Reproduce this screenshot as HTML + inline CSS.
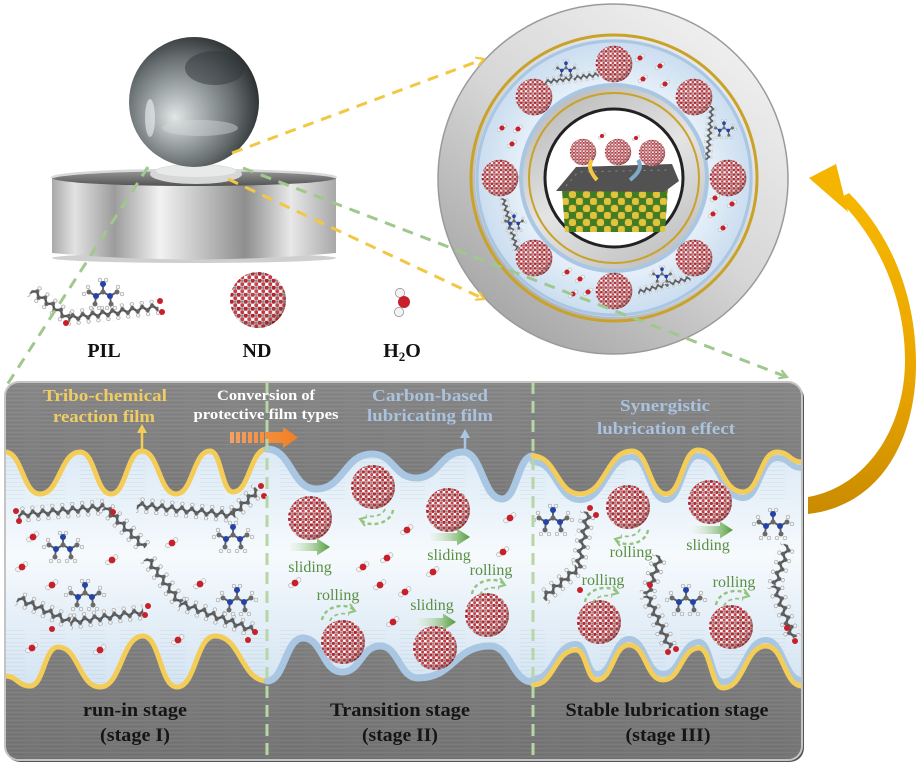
<!DOCTYPE html>
<html><head><meta charset="utf-8">
<style>html,body{margin:0;padding:0;background:#fff}svg{display:block}</style></head>
<body>
<svg xmlns="http://www.w3.org/2000/svg" xmlns:xlink="http://www.w3.org/1999/xlink" width="916" height="764" viewBox="0 0 916 764" font-family="'Liberation Serif', serif">
<defs>
 <pattern id="ndPat" patternUnits="userSpaceOnUse" width="5" height="5">
  <rect width="5" height="5" fill="#d8cdcd"/>
  <circle cx="1.2" cy="1.2" r="1.5" fill="#b01e2a"/>
  <circle cx="3.8" cy="3.7" r="1.35" fill="#c8303a"/>
  <circle cx="3.8" cy="1.2" r="0.9" fill="#7e8484"/>
  <circle cx="1.2" cy="3.8" r="1.05" fill="#ffffff"/>
 </pattern>
 <radialGradient id="ndSh" cx="0.38" cy="0.35" r="0.7">
  <stop offset="0" stop-color="#fff" stop-opacity="0.15"/>
  <stop offset="0.6" stop-color="#fff" stop-opacity="0"/>
  <stop offset="1" stop-color="#500" stop-opacity="0.5"/>
 </radialGradient>
 <g id="nd"><circle r="20" fill="url(#ndPat)"/><circle r="20" fill="url(#ndSh)"/></g>

 <pattern id="chP" patternUnits="userSpaceOnUse" x="0" y="-8" width="10" height="16">
  <path d="M0,10 L5,6 L10,10" fill="none" stroke="#4e4e4e" stroke-width="2.4"/>
  <circle cx="0" cy="10" r="2.2" fill="#606060"/>
  <circle cx="5" cy="6" r="2.2" fill="#606060"/>
  <circle cx="10" cy="10" r="2.2" fill="#606060"/>
  <circle cx="5" cy="2" r="1.8" fill="#f6f6f6" stroke="#7a7a7a" stroke-width="0.5"/>
  <circle cx="0" cy="14" r="1.8" fill="#f6f6f6" stroke="#7a7a7a" stroke-width="0.5"/>
  <circle cx="10" cy="14" r="1.8" fill="#f6f6f6" stroke="#7a7a7a" stroke-width="0.5"/>
 </pattern>

 <g id="amm">
  <path d="M0,0 L-7,4 L-14,0 M-7,4 L-8,12 M0,0 L7,4 L14,0 M7,4 L8,12 M0,0 L0,-8" stroke="#5e5e5e" stroke-width="1.9" fill="none"/>
  <circle cx="-19" cy="2" r="1.9" fill="#f4f4f4" stroke="#888" stroke-width=".5"/>
  <circle cx="-15" cy="-5" r="1.9" fill="#f4f4f4" stroke="#888" stroke-width=".5"/>
  <circle cx="-12" cy="16" r="1.9" fill="#f4f4f4" stroke="#888" stroke-width=".5"/>
  <circle cx="-4" cy="16" r="1.9" fill="#f4f4f4" stroke="#888" stroke-width=".5"/>
  <circle cx="19" cy="2" r="1.9" fill="#f4f4f4" stroke="#888" stroke-width=".5"/>
  <circle cx="15" cy="-5" r="1.9" fill="#f4f4f4" stroke="#888" stroke-width=".5"/>
  <circle cx="12" cy="16" r="1.9" fill="#f4f4f4" stroke="#888" stroke-width=".5"/>
  <circle cx="4" cy="16" r="1.9" fill="#f4f4f4" stroke="#888" stroke-width=".5"/>
  <circle cx="-3" cy="-12" r="1.9" fill="#f4f4f4" stroke="#888" stroke-width=".5"/>
  <circle cx="3" cy="-12" r="1.9" fill="#f4f4f4" stroke="#888" stroke-width=".5"/>
  <circle cx="0" cy="0" r="2.5" fill="#6a6a6a"/>
  <circle cx="-14" cy="0" r="2.5" fill="#6a6a6a"/>
  <circle cx="-8" cy="12" r="2.5" fill="#6a6a6a"/>
  <circle cx="14" cy="0" r="2.5" fill="#6a6a6a"/>
  <circle cx="8" cy="12" r="2.5" fill="#6a6a6a"/>
  <circle cx="-7" cy="4" r="3" fill="#2442a8"/>
  <circle cx="7" cy="4" r="3" fill="#2442a8"/>
  <circle cx="0" cy="-8" r="3" fill="#2442a8"/>
 </g>
 <g id="w">
  <circle cx="-4" cy="2.5" r="2.4" fill="#f3f3f3" stroke="#999" stroke-width=".5"/>
  <circle cx="3.6" cy="-3" r="2.4" fill="#f3f3f3" stroke="#999" stroke-width=".5"/>
  <circle cx="0" cy="0" r="3.4" fill="#c8202a"/>
 </g>
 <linearGradient id="slG" gradientUnits="userSpaceOnUse" x1="0" y1="0" x2="40" y2="0">
  <stop offset="0" stop-color="#e8f2e0" stop-opacity="0.3"/>
  <stop offset="1" stop-color="#4f9a35"/>
 </linearGradient>
 <g id="sl"><path d="M0,-4 L27,-4 L27,-8.5 L40,0 L27,8.5 L27,4 L0,4 Z" fill="url(#slG)"/></g>
 <g id="rl" fill="none" stroke="#93c47e" stroke-width="2.4" stroke-dasharray="4 3">
  <path d="M-18,8 C-16,-6 6,-10 14,-2"/>
  <path d="M-10,9 C-8,2 4,0 9,3" stroke-width="1.8"/>
  <path d="M10,-8 L15,-1 L8,1" stroke-dasharray="none" stroke-width="2"/>
 </g>

 <linearGradient id="grayTop" x1="0" y1="382" x2="0" y2="500" gradientUnits="userSpaceOnUse">
  <stop offset="0" stop-color="#878787"/><stop offset="1" stop-color="#7a7a7a"/>
 </linearGradient>
 <linearGradient id="grayBot" x1="0" y1="630" x2="0" y2="760" gradientUnits="userSpaceOnUse">
  <stop offset="0" stop-color="#818181"/><stop offset="1" stop-color="#747474"/>
 </linearGradient>
 <pattern id="brush" patternUnits="userSpaceOnUse" width="40" height="4">
  <rect width="40" height="1" fill="#fff" opacity="0.05"/>
  <rect y="2" width="25" height="1" fill="#000" opacity="0.04"/>
 </pattern>
 <linearGradient id="liq" x1="0" y1="445" x2="0" y2="690" gradientUnits="userSpaceOnUse">
  <stop offset="0" stop-color="#d9e8f5"/>
  <stop offset="0.45" stop-color="#f6fafd"/>
  <stop offset="1" stop-color="#d2e3f2"/>
 </linearGradient>
 <clipPath id="pc"><rect x="5" y="382" width="797" height="378" rx="14"/></clipPath>

 <radialGradient id="ball" cx="0.42" cy="0.55" r="0.62" fx="0.35" fy="0.62">
  <stop offset="0" stop-color="#e2e6e6"/>
  <stop offset="0.3" stop-color="#a9b0b1"/>
  <stop offset="0.68" stop-color="#666d6e"/>
  <stop offset="1" stop-color="#25292a"/>
 </radialGradient>
 <linearGradient id="disk" x1="52" y1="0" x2="336" y2="0" gradientUnits="userSpaceOnUse">
  <stop offset="0" stop-color="#a9a9a9"/>
  <stop offset="0.08" stop-color="#e2e2e2"/>
  <stop offset="0.22" stop-color="#9c9c9c"/>
  <stop offset="0.38" stop-color="#f2f2f2"/>
  <stop offset="0.52" stop-color="#c4c4c4"/>
  <stop offset="0.68" stop-color="#8e8e8e"/>
  <stop offset="0.84" stop-color="#e8e8e8"/>
  <stop offset="1" stop-color="#a8a8a8"/>
 </linearGradient>
 <linearGradient id="diskTop" x1="0" y1="170" x2="0" y2="188" gradientUnits="userSpaceOnUse">
  <stop offset="0" stop-color="#9a9a9a"/><stop offset="1" stop-color="#4a4a4a"/>
 </linearGradient>

 <linearGradient id="ringG" x1="0.8" y1="0.1" x2="0.2" y2="0.9">
  <stop offset="0" stop-color="#eeeeee"/><stop offset="0.5" stop-color="#d6d6d6"/><stop offset="1" stop-color="#a9a9a9"/>
 </linearGradient>
 <radialGradient id="bandG" cx="0.5" cy="0.5" r="0.5">
  <stop offset="0.65" stop-color="#e8f1f9"/><stop offset="1" stop-color="#c9dcef"/>
 </radialGradient>
 <linearGradient id="innerG" x1="0.2" y1="0" x2="0.8" y2="1">
  <stop offset="0" stop-color="#b8b8b8"/><stop offset="0.5" stop-color="#e4e4e4"/><stop offset="1" stop-color="#bdbdbd"/>
 </linearGradient>
 <pattern id="lat" patternUnits="userSpaceOnUse" width="14" height="14" x="562" y="184">
  <rect width="14" height="14" fill="#6f7a2a"/>
  <circle cx="3.5" cy="3.5" r="3.8" fill="#e2c33c"/>
  <circle cx="10.5" cy="3.5" r="3.8" fill="#3f7d24"/>
  <circle cx="3.5" cy="10.5" r="3.8" fill="#3f7d24"/>
  <circle cx="10.5" cy="10.5" r="3.8" fill="#e2c33c"/>
 </pattern>
 <linearGradient id="arrG" x1="0" y1="170" x2="0" y2="515" gradientUnits="userSpaceOnUse">
  <stop offset="0" stop-color="#f7b900"/><stop offset="0.6" stop-color="#eaa600"/><stop offset="1" stop-color="#c98b00"/>
 </linearGradient>
 <linearGradient id="orG" x1="230" y1="0" x2="298" y2="0" gradientUnits="userSpaceOnUse">
  <stop offset="0" stop-color="#f6a060"/><stop offset="1" stop-color="#f07f22"/>
 </linearGradient>

 <marker id="ay" viewBox="0 0 10 10" refX="8" refY="5" markerWidth="11" markerHeight="11" markerUnits="userSpaceOnUse" orient="auto">
  <path d="M1,1 L8,5 L1,9" fill="none" stroke="#f2c744" stroke-width="2"/>
 </marker>
 <marker id="ag" viewBox="0 0 10 10" refX="8" refY="5" markerWidth="11" markerHeight="11" markerUnits="userSpaceOnUse" orient="auto">
  <path d="M1,1 L8,5 L1,9" fill="none" stroke="#9fc98c" stroke-width="2"/>
 </marker>
</defs>

<rect width="916" height="764" fill="#fff"/>

<!-- ===== Ball on disk ===== -->
<ellipse cx="194" cy="258" rx="142" ry="5" fill="#cfcfcf"/>
<path d="M52,178 L52,253 Q194,266 336,253 L336,178 Z" fill="url(#disk)"/>
<ellipse cx="194" cy="178" rx="142" ry="8" fill="url(#diskTop)"/>
<path d="M52,178 A142,8 0 0 1 336,178" fill="none" stroke="#d8d8d8" stroke-width="2.5"/>
<ellipse cx="196" cy="174" rx="46" ry="10" fill="#d6d8d8"/>
<ellipse cx="196" cy="171" rx="40" ry="6" fill="#e8e9e9"/>
<circle cx="194" cy="102" r="65" fill="url(#ball)"/>
<ellipse cx="215" cy="68" rx="30" ry="17" fill="#30363a" opacity="0.5"/>
<ellipse cx="150" cy="118" rx="5" ry="19" fill="#fff" opacity="0.5"/>
<ellipse cx="200" cy="128" rx="38" ry="8" fill="#d5dada" opacity="0.45"/>

<!-- ===== Legend molecules ===== -->
<rect x="0" y="-8" width="46" height="16" fill="url(#chP)" transform="translate(32 290) rotate(37.9)"/>
<rect x="0" y="-8" width="91" height="16" fill="url(#chP)" transform="translate(68 318) rotate(-7)"/>
<circle cx="160" cy="301" r="3" fill="#c8202a"/><circle cx="162" cy="312" r="3" fill="#c8202a"/><circle cx="66" cy="323" r="3" fill="#c8202a"/>
<use href="#amm" transform="translate(103 292)"/>
<use href="#nd" transform="translate(258 300) scale(1.4)"/>
<circle cx="400" cy="293" r="4.6" fill="#f3f3f3" stroke="#888" stroke-width=".7"/>
<circle cx="399" cy="312" r="4.6" fill="#f3f3f3" stroke="#888" stroke-width=".7"/>
<circle cx="404" cy="302" r="6" fill="#c8202a"/>
<g font-weight="bold" font-size="20" fill="#111" text-anchor="middle">
 <text x="104" y="357">PIL</text>
 <text x="257" y="357">ND</text>
 <text x="402" y="357">H<tspan font-size="13" dy="4">2</tspan><tspan dy="-4">O</tspan></text>
</g>

<!-- ===== Ring ===== -->
<circle cx="613" cy="179" r="175" fill="url(#ringG)" stroke="#9a9a9a" stroke-width="1.5"/>
<circle cx="614" cy="178" r="143" fill="none" stroke="#c9a22a" stroke-width="3"/>
<circle cx="614" cy="178" r="139" fill="url(#bandG)"/>
<circle cx="614" cy="178" r="137" fill="none" stroke="#a9c6e2" stroke-width="3"/>
<circle cx="614" cy="178" r="93" fill="url(#innerG)" stroke="#a9c6e2" stroke-width="4"/>
<circle cx="614" cy="178" r="85" fill="none" stroke="#c9a22a" stroke-width="2"/>
<circle cx="614" cy="178" r="69" fill="#fff" stroke="#222" stroke-width="3"/>
<!-- ring contents -->
<use href="#nd" transform="translate(614 64) scale(0.92)"/>
<use href="#nd" transform="translate(694 97) scale(0.92)"/>
<use href="#nd" transform="translate(728 178) scale(0.92)"/>
<use href="#nd" transform="translate(694 258) scale(0.92)"/>
<use href="#nd" transform="translate(614 291) scale(0.92)"/>
<use href="#nd" transform="translate(534 258) scale(0.92)"/>
<use href="#nd" transform="translate(500 178) scale(0.92)"/>
<use href="#nd" transform="translate(534 97) scale(0.92)"/>
<rect x="0" y="-8" width="90" height="16" fill="url(#chP)" transform="translate(545 82) rotate(-8) scale(0.6)"/>
<use href="#amm" transform="translate(566 68) scale(0.6)"/>
<rect x="0" y="-8" width="90" height="16" fill="url(#chP)" transform="translate(712 106) rotate(95) scale(0.6)"/>
<use href="#amm" transform="translate(724 128) scale(0.6)"/>
<rect x="0" y="-8" width="90" height="16" fill="url(#chP)" transform="translate(503 198) rotate(75) scale(0.6)"/>
<use href="#amm" transform="translate(514 221) scale(0.6)"/>
<rect x="0" y="-8" width="90" height="16" fill="url(#chP)" transform="translate(638 292) rotate(-15) scale(0.6)"/>
<use href="#amm" transform="translate(662 274) scale(0.6)"/>
<use href="#w" transform="translate(640 58) scale(.75)"/><use href="#w" transform="translate(660 66) scale(.75)"/>
<use href="#w" transform="translate(643 79) scale(.75)"/><use href="#w" transform="translate(665 84) scale(.75)"/>
<use href="#w" transform="translate(502 128) scale(.75)"/><use href="#w" transform="translate(518 129) scale(.75)"/>
<use href="#w" transform="translate(512 144) scale(.75)"/>
<use href="#w" transform="translate(715 198) scale(.75)"/><use href="#w" transform="translate(732 204) scale(.75)"/>
<use href="#w" transform="translate(713 214) scale(.75)"/><use href="#w" transform="translate(723 228) scale(.75)"/>
<use href="#w" transform="translate(567 272) scale(.75)"/><use href="#w" transform="translate(580 279) scale(.75)"/>
<use href="#w" transform="translate(573 294) scale(.75)"/><use href="#w" transform="translate(588 292) scale(.75)"/>
<!-- center lattice -->
<polygon points="562,190 668,188 665,232 565,232" fill="url(#lat)"/>
<path d="M556,191 L576,167 L672,164 L679,181 L664,192 Z" fill="#525252"/>
<path d="M566,186 L578,172 L668,170" stroke="#8a8a8a" stroke-width="1" stroke-dasharray="2 5" fill="none"/>
<use href="#nd" transform="translate(583 152) scale(0.66)"/>
<use href="#nd" transform="translate(618 152) scale(0.66)"/>
<use href="#nd" transform="translate(652 153) scale(0.66)"/>
<path d="M597,180 C590,172 588,165 592,160" stroke="#f2c744" stroke-width="4" fill="none"/>
<path d="M630,180 C640,172 642,166 638,160" stroke="#7fa8c9" stroke-width="4" fill="none"/>
<use href="#w" transform="translate(602 136) scale(.6)"/><use href="#w" transform="translate(636 138) scale(.6)"/>

<!-- ===== Curved arrow ===== -->
<path d="M838,199 C880,240 905,300 905,360 C905,430 865,487 808,497 L808,514 C880,506 917,440 916,360 C915,290 888,232 849,193 Z" fill="url(#arrG)"/>
<polygon points="809,178 836,164 848,212" fill="#f5b400"/>

<!-- ===== Bottom panel ===== -->
<rect x="6" y="384" width="798" height="378" rx="14" fill="#555"/>
<g clip-path="url(#pc)">
 <rect x="5" y="382" width="797" height="378" fill="url(#liq)"/>
 <path d="M5,382 L5,452 C22.5,452 22.5,494 40,494 C60,494 60,452 80,452 C95.5,452 95.5,494 111,494 C126.5,494 126.5,451 142,451 C159,451 159,494 176,494 C193,494 193,451 210,451 C221.5,451 221.5,492 233,492 C250,492 250,449 267,449 C291.5,449 291.5,489 316,489 C344,489 344,454 372,454 C394,454 394,478 416,478 C439.5,478 439.5,452 463,452 C482.5,452 482.5,499 502,499 C517.5,499 517.5,456 533,456 C556.5,456 556.5,494 580,494 C606,494 606,451 632,451 C649,451 649,494 666,494 C682,494 682,450 698,450 C720.5,450 720.5,492 743,492 C760,492 760,452 777,452 C789.5,452 789.5,462 802,462 L802,382 Z" fill="url(#grayTop)"/>
 <path d="M5,760 L5,676 C17.5,676 17.5,686 30,686 C44,686 44,647 58,647 C79,647 79,687 100,687 C121.5,687 121.5,636 143,636 C160,636 160,687 177,687 C196,687 196,636 215,636 C241,636 241,681 267,681 C285,681 285,638 303,638 C322.5,638 322.5,672 342,672 C361,672 361,646 380,646 C399,646 399,678 418,678 C454,678 454,646 490,646 C511.5,646 511.5,682 533,682 L533,685 C554.5,685 554.5,650 576,650 C586.5,650 586.5,680 597,680 C613,680 613,645 629,645 C646,645 646,680 663,680 C681,680 681,648 699,648 C711,648 711,688 723,688 C744.5,688 744.5,646 766,646 C784,646 784,686 802,686 L802,760 Z" fill="url(#grayBot)"/>
 <rect x="5" y="382" width="797" height="120" fill="url(#brush)"/>
 <rect x="5" y="630" width="797" height="130" fill="url(#brush)"/>

 <g fill="none" stroke-linecap="round">
  <path d="M5,452 C22.5,452 22.5,494 40,494 C60,494 60,452 80,452 C95.5,452 95.5,494 111,494 C126.5,494 126.5,451 142,451 C159,451 159,494 176,494 C193,494 193,451 210,451 C221.5,451 221.5,492 233,492 C250,492 250,449 267,449" stroke="#f3cd57" stroke-width="5"/>
  <path d="M267,449 C291.5,449 291.5,489 316,489 C344,489 344,454 372,454 C394,454 394,478 416,478 C439.5,478 439.5,452 463,452 C482.5,452 482.5,499 502,499 C517.5,499 517.5,456 533,456" stroke="#a9c6e2" stroke-width="7"/>
  <path transform="translate(0 6)" d="M533,456 C556.5,456 556.5,494 580,494 C606,494 606,451 632,451 C649,451 649,494 666,494 C682,494 682,450 698,450 C720.5,450 720.5,492 743,492 C760,492 760,452 777,452 C789.5,452 789.5,462 802,462" stroke="#a9c6e2" stroke-width="6"/>
  <path d="M533,456 C556.5,456 556.5,494 580,494 C606,494 606,451 632,451 C649,451 649,494 666,494 C682,494 682,450 698,450 C720.5,450 720.5,492 743,492 C760,492 760,452 777,452 C789.5,452 789.5,462 802,462" stroke="#f3cd57" stroke-width="5"/>
  <path d="M5,676 C17.5,676 17.5,686 30,686 C44,686 44,647 58,647 C79,647 79,687 100,687 C121.5,687 121.5,636 143,636 C160,636 160,687 177,687 C196,687 196,636 215,636 C241,636 241,681 267,681" stroke="#f3cd57" stroke-width="5"/>
  <path d="M267,681 C285,681 285,638 303,638 C322.5,638 322.5,672 342,672 C361,672 361,646 380,646 C399,646 399,678 418,678 C454,678 454,646 490,646 C511.5,646 511.5,682 533,682" stroke="#a9c6e2" stroke-width="7"/>
  <path transform="translate(0 -6)" d="M533,685 C554.5,685 554.5,650 576,650 C586.5,650 586.5,680 597,680 C613,680 613,645 629,645 C646,645 646,680 663,680 C681,680 681,648 699,648 C711,648 711,688 723,688 C744.5,688 744.5,646 766,646 C784,646 784,686 802,686" stroke="#a9c6e2" stroke-width="6"/>
  <path d="M533,685 C554.5,685 554.5,650 576,650 C586.5,650 586.5,680 597,680 C613,680 613,645 629,645 C646,645 646,680 663,680 C681,680 681,648 699,648 C711,648 711,688 723,688 C744.5,688 744.5,646 766,646 C784,646 784,686 802,686" stroke="#f3cd57" stroke-width="5"/>
 </g>

 <!-- stage I molecules -->
 <rect x="0" y="-8" width="87" height="16" fill="url(#chP)" transform="translate(18 515) rotate(-5.3)"/>
 <rect x="0" y="-8" width="57" height="16" fill="url(#chP)" transform="translate(105 507) rotate(45.7)"/>
 <rect x="0" y="-8" width="96" height="16" fill="url(#chP)" transform="translate(137 505) rotate(6)"/>
 <rect x="0" y="-8" width="36" height="16" fill="url(#chP)" transform="translate(232 515) rotate(-43.9)"/>
 <rect x="0" y="-8" width="56" height="16" fill="url(#chP)" transform="translate(147 558) rotate(53.7)"/>
 <rect x="0" y="-8" width="78" height="16" fill="url(#chP)" transform="translate(180 603) rotate(20.3)"/>
 <rect x="0" y="-8" width="57" height="16" fill="url(#chP)" transform="translate(18 598) rotate(24.8)"/>
 <rect x="0" y="-8" width="74" height="16" fill="url(#chP)" transform="translate(70 622) rotate(-7.8)"/>
 <g fill="#c8202a">
  <circle cx="16" cy="511" r="3"/><circle cx="19" cy="521" r="3"/>
  <circle cx="261" cy="486" r="3"/><circle cx="264" cy="496" r="3"/>
  <circle cx="145" cy="615" r="3"/><circle cx="148" cy="606" r="3"/>
  <circle cx="255" cy="632" r="3"/><circle cx="248" cy="640" r="3"/>
  <circle cx="52" cy="629" r="3"/><circle cx="113" cy="512" r="3"/>
 </g>
 <use href="#amm" transform="translate(63 545)"/>
 <use href="#amm" transform="translate(233 535)"/>
 <use href="#amm" transform="translate(85 593)"/>
 <use href="#amm" transform="translate(237 598)"/>
 <use href="#w" transform="translate(33 537)"/><use href="#w" transform="translate(22 567)"/>
 <use href="#w" transform="translate(112 560)"/><use href="#w" transform="translate(172 543)"/>
 <use href="#w" transform="translate(52 585)"/><use href="#w" transform="translate(200 584)"/>
 <use href="#w" transform="translate(32 648)"/><use href="#w" transform="translate(100 650)"/>
 <use href="#w" transform="translate(178 640)"/>

 <!-- stage II -->
 <use href="#nd" transform="translate(310 518) scale(1.1)"/>
 <use href="#nd" transform="translate(373 487) scale(1.1)"/>
 <use href="#nd" transform="translate(448 510) scale(1.1)"/>
 <use href="#nd" transform="translate(343 642) scale(1.1)"/>
 <use href="#nd" transform="translate(435 648) scale(1.1)"/>
 <use href="#nd" transform="translate(487 615) scale(1.1)"/>
 <use href="#sl" transform="translate(290 547)"/>
 <use href="#sl" transform="translate(430 537)"/>
 <use href="#sl" transform="translate(416 622)"/>
 <use href="#rl" transform="translate(375 518) rotate(180)"/>
 <use href="#rl" transform="translate(340 612)"/>
 <use href="#rl" transform="translate(490 586)"/>
 <use href="#w" transform="translate(407 530)"/><use href="#w" transform="translate(387 558)"/>
 <use href="#w" transform="translate(363 567)"/><use href="#w" transform="translate(433 572)"/>
 <use href="#w" transform="translate(380 585)"/><use href="#w" transform="translate(405 592)"/>
 <use href="#w" transform="translate(295 583)"/><use href="#w" transform="translate(510 518)"/>
 <use href="#w" transform="translate(503 552)"/><use href="#w" transform="translate(393 622)"/>

 <!-- stage III -->
 <rect x="0" y="-8" width="57" height="16" fill="url(#chP)" transform="translate(588 512) rotate(100)"/>
 <rect x="0" y="-8" width="46" height="16" fill="url(#chP)" transform="translate(578 568) rotate(139.4)"/>
 <rect x="0" y="-8" width="41" height="16" fill="url(#chP)" transform="translate(660 556) rotate(108.4)"/>
 <rect x="0" y="-8" width="58" height="16" fill="url(#chP)" transform="translate(647 595) rotate(66.5)"/>
 <rect x="0" y="-8" width="42" height="16" fill="url(#chP)" transform="translate(788 545) rotate(108)"/>
 <rect x="0" y="-8" width="56" height="16" fill="url(#chP)" transform="translate(775 585) rotate(71.2)"/>
 <g fill="#c8202a">
  <circle cx="590" cy="508" r="3"/><circle cx="596" cy="515" r="3"/>
  <circle cx="668" cy="652" r="3"/><circle cx="676" cy="649" r="3"/>
  <circle cx="795" cy="641" r="3"/><circle cx="787" cy="628" r="3"/>
  <circle cx="580" cy="590" r="3"/><circle cx="650" cy="585" r="3"/>
 </g>
 <use href="#amm" transform="translate(553 518)"/>
 <use href="#amm" transform="translate(773 522)"/>
 <use href="#amm" transform="translate(686 598)"/>
 <use href="#nd" transform="translate(628 507) scale(1.1)"/>
 <use href="#nd" transform="translate(710 502) scale(1.1)"/>
 <use href="#nd" transform="translate(599 622) scale(1.1)"/>
 <use href="#nd" transform="translate(731 627) scale(1.1)"/>
 <use href="#sl" transform="translate(693 530)"/>
 <use href="#rl" transform="translate(630 538) rotate(180)"/>
 <use href="#rl" transform="translate(603 594)"/>
 <use href="#rl" transform="translate(734 597)"/>

 <g fill="url(#orG)">
  <rect x="230" y="432" width="4" height="11"/><rect x="236" y="432" width="4" height="11"/>
  <rect x="242" y="432" width="4" height="11"/><rect x="248" y="432" width="4" height="11"/>
  <rect x="254" y="432" width="4" height="11"/><rect x="260" y="432" width="4" height="11"/>
  <rect x="265" y="432" width="19" height="11"/>
  <polygon points="283,427 298,437.5 283,448"/>
 </g>
 <path d="M142,451 L142,431" stroke="#f3cd57" stroke-width="2.5"/>
 <polygon points="137,433 142,424 147,433" fill="#f3cd57"/>
 <path d="M465,452 L465,436" stroke="#a9c6e2" stroke-width="2.5"/>
 <polygon points="460,438 465,429 470,438" fill="#a9c6e2"/>
</g>
<rect x="5" y="382" width="797" height="378" rx="14" fill="none" stroke="#c4c4c4" stroke-width="2"/>

<g stroke="#b6d6a4" stroke-width="3" stroke-dasharray="12 7">
 <line x1="267" y1="382" x2="267" y2="762"/>
 <line x1="533" y1="382" x2="533" y2="762"/>
</g>

<g font-weight="bold" text-anchor="middle">
 <text x="105" y="401" font-size="17" fill="#f0cd63" textLength="124" lengthAdjust="spacingAndGlyphs">Tribo-chemical</text>
 <text x="104" y="422" font-size="17" fill="#f0cd63" textLength="102" lengthAdjust="spacingAndGlyphs">reaction film</text>
 <text x="266" y="400" font-size="15" fill="#ffffff" textLength="98" lengthAdjust="spacingAndGlyphs">Conversion of</text>
 <text x="266" y="419" font-size="15" fill="#ffffff" textLength="145" lengthAdjust="spacingAndGlyphs">protective film types</text>
 <text x="430" y="401" font-size="17" fill="#a9c2de" textLength="116" lengthAdjust="spacingAndGlyphs">Carbon-based</text>
 <text x="430" y="421" font-size="17" fill="#a9c2de" textLength="126" lengthAdjust="spacingAndGlyphs">lubricating film</text>
 <text x="665" y="411" font-size="17" fill="#a9c2de" textLength="90" lengthAdjust="spacingAndGlyphs">Synergistic</text>
 <text x="666" y="434" font-size="17" fill="#a9c2de" textLength="138" lengthAdjust="spacingAndGlyphs">lubrication effect</text>

 <text x="135" y="716" font-size="19" fill="#151515" textLength="104" lengthAdjust="spacingAndGlyphs">run-in stage</text>
 <text x="135" y="741" font-size="19" fill="#151515" textLength="70" lengthAdjust="spacingAndGlyphs">(stage I)</text>
 <text x="400" y="716" font-size="19" fill="#151515" textLength="140" lengthAdjust="spacingAndGlyphs">Transition stage</text>
 <text x="400" y="741" font-size="19" fill="#151515" textLength="76" lengthAdjust="spacingAndGlyphs">(stage II)</text>
 <text x="667" y="716" font-size="19" fill="#151515" textLength="203" lengthAdjust="spacingAndGlyphs">Stable lubrication stage</text>
 <text x="668" y="741" font-size="19" fill="#151515" textLength="85" lengthAdjust="spacingAndGlyphs">(stage III)</text>
</g>
<g font-size="16" fill="#5a8f45" text-anchor="middle">
 <text x="310" y="572">sliding</text>
 <text x="449" y="560">sliding</text>
 <text x="432" y="610">sliding</text>
 <text x="338" y="600">rolling</text>
 <text x="491" y="575">rolling</text>
 <text x="631" y="557">rolling</text>
 <text x="708" y="550">sliding</text>
 <text x="603" y="585">rolling</text>
 <text x="734" y="587">rolling</text>
</g>

<g fill="none" stroke-width="3" stroke-dasharray="11 8">
 <line x1="232" y1="153" x2="484" y2="59" stroke="#f2c744" marker-end="url(#ay)"/>
 <line x1="228" y1="179" x2="484" y2="299" stroke="#f2c744" marker-end="url(#ay)"/>
 <line x1="243" y1="168" x2="787" y2="377" stroke="#9fc98c" marker-end="url(#ag)"/>
 <line x1="148" y1="167" x2="5" y2="388" stroke="#9fc98c"/>
</g>
</svg>
</body></html>
